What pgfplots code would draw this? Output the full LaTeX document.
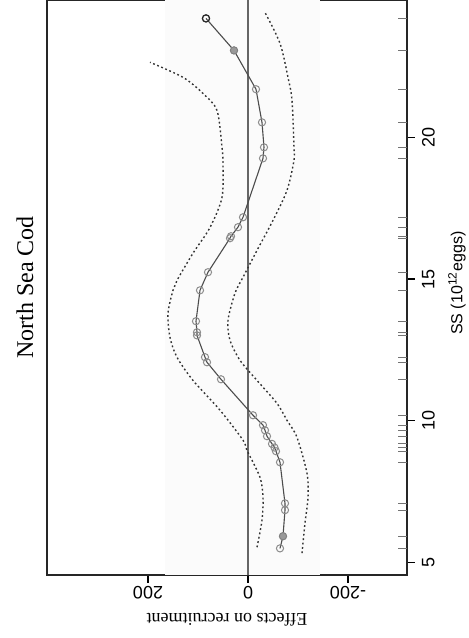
\documentclass[border=0pt]{standalone}
\usepackage{pgfplots}
\pgfplotsset{compat=1.18}
\usepackage{fontspec}
\setmainfont{Liberation Serif}
\setsansfont{Liberation Sans}

% the figure is printed turned a quarter turn: effects run horizontally (reversed), SS vertically
\begin{document}
\begin{tikzpicture}
\begin{axis}[
  scale only axis, width=180pt, height=287.5pt,
  x dir=reverse,
  xmin=-318, xmax=402, ymin=4.55, ymax=24.85,
  axis line style={black!85, line width=0.6pt},
  tick style={black, line width=0.6pt},
  tick align=outside, major tick length=4pt,
  xtick={-200,0,200}, xticklabels={-200,0,200},
  ytick={5,10,15,20}, yticklabels={5,10,15,20},
  xtick pos=left, ytick pos=right, yticklabel pos=right,
  xticklabel shift=-2pt,
  xticklabel style={font=\sffamily\fontsize{9}{10}\selectfont, rotate=180, anchor=south},
  yticklabel style={font=\sffamily\fontsize{9}{10}\selectfont, rotate=90, anchor=north},
  clip=false,
]
\fill[black!1.5] (axis cs:166,4.55) rectangle (axis cs:-144,24.85);

% zero line
\addplot[black!60, line width=0.6pt] coordinates {(0,4.55) (0,24.85)};

% pointwise bands
\addplot[black!80, line width=0.7pt, dash pattern=on 0.9pt off 1.3pt, smooth] coordinates {
  (-18,5.53) (-28,6.48) (-30,7.29) (-24,8.0) (2,8.95) (10,9.31) (56,10.37)
  (110,11.42) (142,12.24) (156,12.94) (160,13.79) (150,14.60) (142,14.95)
  (110,15.91) (76,16.82) (52,17.88) (50,19.08) (52,19.65) (62,20.95)
  (90,21.55) (130,22.12) (196,22.65)
};
\addplot[black!80, line width=0.7pt, dash pattern=on 0.9pt off 1.3pt, smooth] coordinates {
  (-108,5.32) (-114,6.38) (-120,7.29) (-118,8.14) (-98,9.41) (-78,10.01)
  (-58,10.61) (-18,11.42) (16,12.13) (36,12.84) (40,13.54) (26,14.50)
  (10,15.06) (-18,16.01) (-50,17.07) (-78,18.13) (-92,19.19) (-92,19.65)
  (-88,21.31) (-80,22.12) (-64,23.32) (-34,24.41)
};

% fitted effect at the observed SS
\addplot[black!70, line width=0.55pt, mark=o, mark size=1.8pt,
  mark options={black!45, line width=0.5pt}] coordinates {
  (-64,5.49) (-70,5.92) (-74,6.84) (-74,7.08) (-64,8.53) (-56,8.92) (-53,9.05)
  (-48,9.18) (-38,9.45) (-34,9.66) (-30,9.84) (-10,10.19) (54,11.46) (82,12.06)
  (86,12.24) (102,13.01) (102,13.12) (104,13.51) (96,14.60) (80,15.24)
  (36,16.44) (34,16.51) (20,16.83) (10,17.18) (-30,19.26) (-32,19.65)
  (-28,20.53) (-16,21.70) (28,23.07) (84,24.20)
};
\addplot[only marks, mark=*, mark size=1.8pt, mark options={draw=black!50, fill=black!40}]
  coordinates {(-70,5.92) (28,23.07)};
\addplot[only marks, mark=o, mark size=1.8pt, mark options={black!85, line width=0.6pt}]
  coordinates {(84,24.20)};

% rug
\addplot[only marks, mark=-, mark size=2.25pt, mark options={black!55, line width=0.6pt}] coordinates {
  (-309,5.49) (-309,5.92) (-309,6.84) (-309,7.08) (-309,8.53) (-309,8.92) (-309,9.05)
  (-309,9.18) (-309,9.45) (-309,9.66) (-309,9.84) (-309,10.19) (-309,11.46) (-309,12.06)
  (-309,12.24) (-309,13.01) (-309,13.12) (-309,13.51) (-309,14.60) (-309,15.24)
  (-309,16.44) (-309,16.51) (-309,16.83) (-309,17.18) (-309,19.26) (-309,19.65)
  (-309,20.53) (-309,21.70) (-309,23.07) (-309,24.20)
};

\coordinate (TL) at (axis cs:402,24.85);
\coordinate (BR) at (axis cs:-318,4.55);
\coordinate (ML) at (axis cs:402,14.7);
\coordinate (MR) at (axis cs:-318,14.85);
\coordinate (MB) at (axis cs:42,4.55);
\end{axis}

\node[rotate=90, font=\fontsize{12}{14}\selectfont] at ([xshift=-11pt]ML) {North Sea Cod};
\node[rotate=180, font=\fontsize{9}{11}\selectfont] at ([yshift=-22.5pt]MB) {Effects on recruitment};
\node[rotate=90, font=\sffamily\fontsize{8}{10}\selectfont] at ([xshift=25pt]MR) {SS (10\textsuperscript{12}eggs)};

\pgfresetboundingbox
\path[use as bounding box] ([xshift=-23.5pt]TL) rectangle ([xshift=31pt,yshift=-31.5pt]BR);
\end{tikzpicture}
\end{document}
